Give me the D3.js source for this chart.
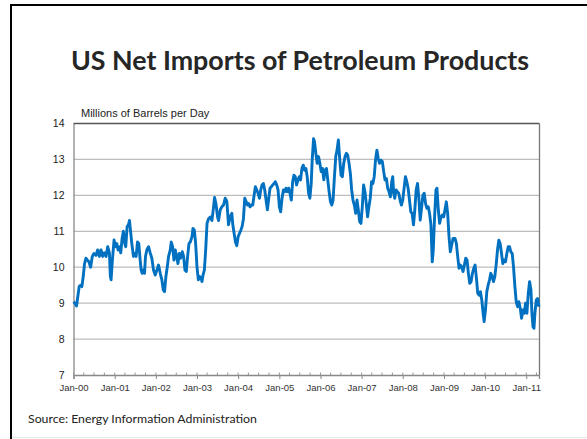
<!DOCTYPE html>
<html>
<head>
<meta charset="utf-8">
<script src="https://cdn.jsdelivr.net/npm/d3@7"></script>
<style>
  body { margin: 0; background: #fff; }
  svg { display: block; }
</style>
</head>
<body>
<div id="chart"></div>
<script>
// weekly-ish readings, time as decimal years
const yearFrac = [
  2000.000, 2000.033, 2000.073, 2000.098, 2000.138, 2000.171, 2000.203, 2000.236, 2000.268, 2000.301,
  2000.333, 2000.374, 2000.415, 2000.455, 2000.496, 2000.545, 2000.585, 2000.626, 2000.667, 2000.707,
  2000.748, 2000.789, 2000.829, 2000.870, 2000.894, 2000.911, 2000.943, 2000.984,
  2001.016, 2001.049, 2001.081, 2001.114, 2001.146, 2001.179, 2001.211, 2001.244, 2001.268, 2001.301,
  2001.333, 2001.358, 2001.390, 2001.415, 2001.455, 2001.488, 2001.520, 2001.553, 2001.585, 2001.618,
  2001.642, 2001.667, 2001.699, 2001.724, 2001.748, 2001.780, 2001.821, 2001.862, 2001.902, 2001.943, 2001.984,
  2002.024, 2002.065, 2002.106, 2002.146, 2002.179, 2002.211, 2002.244, 2002.276, 2002.309, 2002.350,
  2002.374, 2002.407, 2002.439, 2002.472, 2002.504, 2002.537, 2002.569, 2002.602, 2002.642, 2002.675,
  2002.707, 2002.740, 2002.772, 2002.805, 2002.837, 2002.878, 2002.902, 2002.935, 2002.967,
  2003.000, 2003.033, 2003.065, 2003.098, 2003.122, 2003.146, 2003.179, 2003.211, 2003.244, 2003.282,
  2003.323, 2003.363, 2003.403, 2003.427, 2003.460, 2003.500, 2003.524, 2003.565, 2003.605, 2003.645,
  2003.685, 2003.726, 2003.766, 2003.806, 2003.847, 2003.871, 2003.903, 2003.935, 2003.968,
  2004.000, 2004.032, 2004.065, 2004.097, 2004.129, 2004.161, 2004.194, 2004.226, 2004.258, 2004.290,
  2004.323, 2004.355, 2004.387, 2004.419, 2004.452, 2004.484, 2004.516, 2004.548, 2004.581, 2004.613,
  2004.645, 2004.677, 2004.710, 2004.742, 2004.774, 2004.806, 2004.839, 2004.871, 2004.903, 2004.935, 2004.968,
  2005.000, 2005.032, 2005.065, 2005.097, 2005.129, 2005.161, 2005.194, 2005.226, 2005.258, 2005.290,
  2005.323, 2005.355, 2005.387, 2005.419, 2005.452, 2005.484, 2005.516, 2005.548, 2005.581, 2005.613,
  2005.645, 2005.677, 2005.710, 2005.742, 2005.774, 2005.798, 2005.831, 2005.855, 2005.887, 2005.919,
  2005.952, 2005.984,
  2006.016, 2006.048, 2006.081, 2006.113, 2006.145, 2006.177, 2006.210, 2006.242, 2006.274, 2006.306,
  2006.339, 2006.371, 2006.403, 2006.435, 2006.468, 2006.500, 2006.532, 2006.565, 2006.597, 2006.629,
  2006.661, 2006.694, 2006.726, 2006.758, 2006.790, 2006.823, 2006.855, 2006.887, 2006.919, 2006.952, 2006.984,
  2007.016, 2007.048, 2007.081, 2007.113, 2007.145, 2007.177, 2007.210, 2007.242, 2007.274, 2007.306,
  2007.339, 2007.371, 2007.403, 2007.435, 2007.472, 2007.504, 2007.537, 2007.569, 2007.602, 2007.634,
  2007.667, 2007.699, 2007.732, 2007.756, 2007.780, 2007.805, 2007.837, 2007.870, 2007.902, 2007.935, 2007.967,
  2008.000, 2008.033, 2008.065, 2008.098, 2008.130, 2008.163, 2008.195, 2008.228, 2008.260, 2008.293,
  2008.325, 2008.358, 2008.390, 2008.423, 2008.455, 2008.488, 2008.520, 2008.553, 2008.585, 2008.618,
  2008.650, 2008.683, 2008.715, 2008.740, 2008.772, 2008.805, 2008.829, 2008.862, 2008.894, 2008.927,
  2008.959, 2008.992,
  2009.024, 2009.057, 2009.089, 2009.122, 2009.154, 2009.187, 2009.220, 2009.268, 2009.301, 2009.333,
  2009.366, 2009.398, 2009.431, 2009.463, 2009.496, 2009.528, 2009.561, 2009.593, 2009.626, 2009.659,
  2009.691, 2009.724, 2009.756, 2009.789, 2009.821, 2009.854, 2009.886, 2009.919, 2009.951, 2009.976,
  2010.008, 2010.041, 2010.073, 2010.106, 2010.138, 2010.171, 2010.203, 2010.236, 2010.268, 2010.301,
  2010.333, 2010.366, 2010.398, 2010.431, 2010.463, 2010.496, 2010.528, 2010.561, 2010.593, 2010.626,
  2010.659, 2010.691, 2010.724, 2010.756, 2010.789, 2010.821, 2010.854, 2010.886, 2010.919, 2010.951, 2010.984,
  2011.016, 2011.049, 2011.081, 2011.114, 2011.138, 2011.163, 2011.187, 2011.211, 2011.244, 2011.276, 2011.309
];

// millions of barrels per day
const netImports = [
  9.04, 9.00, 8.92, 9.13, 9.46, 9.50, 9.46, 9.74, 10.10, 10.25,
  10.20, 10.15, 10.00, 10.30, 10.38, 10.33, 10.48, 10.30, 10.48, 10.30,
  10.40, 10.30, 10.57, 10.40, 9.74, 9.65, 10.20, 10.76,
  10.57, 10.66, 10.48, 10.57, 10.40, 10.80, 11.00, 10.66, 10.57, 11.13,
  11.18, 11.30, 10.94, 10.66, 10.30, 10.38, 10.30, 10.70, 10.66, 10.20,
  9.92, 9.83, 9.92, 9.83, 10.30, 10.48, 10.57, 10.40, 10.25, 9.92, 9.78,
  9.92, 10.06, 9.83, 9.65, 9.37, 9.32, 9.74, 10.00, 10.30, 10.48,
  10.70, 10.57, 10.20, 10.48, 10.30, 10.10, 10.38, 10.25, 10.43, 10.30,
  9.92, 9.88, 10.30, 10.66, 10.70, 10.85, 11.08, 11.03, 10.66,
  10.00, 9.65, 9.74, 9.70, 9.60, 9.78, 9.92, 10.48, 11.22, 11.35,
  11.40, 11.30, 11.68, 11.94, 11.77, 11.40, 11.30, 11.60, 11.68, 11.73,
  11.92, 11.83, 11.18, 11.40, 11.50, 11.18, 10.94, 10.70, 10.60,
  10.85, 10.94, 11.03, 11.13, 11.35, 11.92, 11.83, 11.73, 11.77, 11.68,
  11.73, 11.73, 12.00, 12.24, 12.15, 12.06, 11.92, 12.15, 12.29, 12.33,
  12.15, 11.87, 11.60, 11.92, 12.20, 12.24, 12.29, 12.33, 12.38, 12.29, 12.15,
  11.68, 11.54, 11.92, 12.15, 12.10, 12.20, 12.10, 12.20, 12.06, 11.87,
  12.38, 12.56, 12.52, 12.29, 12.43, 12.52, 12.43, 12.75, 12.84, 12.70,
  12.75, 12.52, 12.06, 11.92, 12.33, 12.98, 13.58, 13.49, 13.17, 12.89,
  13.08, 12.89,
  12.66, 12.75, 12.43, 12.70, 12.75, 12.43, 12.10, 11.83, 11.73, 11.87,
  12.52, 13.08, 13.26, 13.54, 13.00, 12.56, 12.52, 12.89, 13.08, 13.17,
  13.12, 12.89, 12.61, 12.15, 11.87, 11.73, 11.50, 11.87, 11.60, 11.27, 11.22,
  11.68, 12.29, 12.10, 11.77, 11.40, 11.68, 11.92, 12.38, 12.33, 12.52,
  13.00, 13.26, 13.03, 12.89, 12.98, 12.94, 12.66, 12.43, 12.47, 12.20,
  12.10, 11.96, 12.38, 12.52, 12.06, 11.92, 12.15, 12.10, 12.06, 11.87, 11.73,
  11.87, 12.20, 12.52, 12.38, 12.20, 11.87, 11.54, 11.50, 11.18, 11.60,
  12.15, 12.33, 11.92, 11.31, 11.64, 12.00, 12.06, 11.77, 11.64, 11.68,
  11.50, 11.18, 10.15, 10.48, 11.40, 12.15, 12.20, 11.60, 11.22, 11.40,
  11.45, 11.40,
  11.60, 11.82, 11.50, 10.85, 10.43, 10.62, 10.80, 10.80, 10.66, 10.30,
  9.97, 10.06, 10.01, 9.88, 10.06, 10.25, 10.20, 9.83, 9.55, 9.60,
  9.83, 9.97, 10.06, 9.69, 9.27, 9.22, 9.32, 9.09, 8.72, 8.49,
  8.81, 9.32, 9.50, 9.64, 9.83, 9.74, 9.60, 9.74, 10.06, 10.48,
  10.75, 10.66, 10.38, 10.10, 10.20, 10.15, 10.38, 10.57, 10.57, 10.43,
  10.38, 10.00, 9.46, 9.04, 8.90, 9.04, 8.86, 8.58, 8.81, 8.72, 9.00,
  8.72, 9.27, 9.60, 9.37, 8.72, 8.35, 8.30, 8.72, 9.09, 9.13, 8.90
];

const yTicks = [7, 8, 9, 10, 11, 12, 13, 14];
const xTickYears = [2000, 2001, 2002, 2003, 2004, 2005, 2006, 2007, 2008, 2009, 2010, 2011];

const width = 587, height = 439;

function toDate(t) {
  const y = Math.floor(t);
  const a = new Date(y, 0, 1), b = new Date(y + 1, 0, 1);
  return new Date(+a + (t - y) * (b - a));
}

const data = yearFrac.map((t, i) => ({ date: toDate(t), value: netImports[i] }));

const svg = d3.select('#chart')
  .append('svg')
  .attr('width', width)
  .attr('height', height);

svg.append('rect')
  .attr('width', width)
  .attr('height', height)
  .style('fill', '#fff');

// slide frame (top and left edges visible)
svg.append('rect').attr('x', 10).attr('y', 4).attr('width', width - 10).attr('height', 2).style('fill', '#000');
svg.append('rect').attr('x', 10).attr('y', 4).attr('width', 2).attr('height', height - 4).style('fill', '#000');
svg.append('line')
  .attr('x1', 12).attr('x2', width).attr('y1', 437.5).attr('y2', 437.5)
  .style('stroke', '#e6e6e6');

svg.append('text')
  .text('US Net Imports of Petroleum Products')
  .attr('x', 300)
  .attr('y', 70)
  .attr('text-anchor', 'middle')
  .attr('font-family', 'Lato, "Open Sans", sans-serif')
  .attr('font-weight', 'bold')
  .attr('font-size', '26.8px')
  .style('fill', '#262626');

const x = d3.scaleTime()
  .domain([toDate(2000), toDate(2011.31)])
  .range([73.5, 539]);

const y = d3.scaleLinear()
  .domain([7, 14])
  .range([375, 123.5]);

// gridlines
svg.append('g')
  .selectAll('line')
  .data(yTicks.slice(1, -1))
  .join('line')
  .attr('x1', 73.5).attr('x2', 539)
  .attr('y1', d => y(d)).attr('y2', d => y(d))
  .style('stroke', '#bdbdbd')
  .style('stroke-width', 1.3);

// frame: top and right
svg.append('line')
  .attr('x1', 73.5).attr('x2', 539.5).attr('y1', y(14)).attr('y2', y(14))
  .style('stroke', '#555').style('stroke-width', 1.3);
svg.append('line')
  .attr('x1', 539.5).attr('x2', 539.5).attr('y1', y(14)).attr('y2', y(7))
  .style('stroke', '#777').style('stroke-width', 1.3);

// y axis
const yAxis = svg.append('g')
  .attr('transform', 'translate(73.5,0)')
  .call(d3.axisLeft(y).tickValues(yTicks).tickSize(0).tickPadding(9).tickFormat(d3.format('d')));
yAxis.select('.domain').style('stroke', '#888').style('stroke-width', 1.3);
yAxis.selectAll('text')
  .attr('font-family', '"Liberation Sans", Arial, sans-serif')
  .attr('font-size', '10.5px')
  .style('fill', '#222');

// x axis: quarterly minor ticks, yearly major
const quarters = d3.timeMonth.every(3).range(toDate(2000), toDate(2011.31));
svg.append('g')
  .selectAll('line')
  .data(quarters)
  .join('line')
  .attr('x1', d => x(d)).attr('x2', d => x(d))
  .attr('y1', y(7) - 2.5).attr('y2', y(7))
  .style('stroke', '#999');

const xAxis = svg.append('g')
  .attr('transform', `translate(0,${y(7)})`)
  .call(d3.axisBottom(x)
    .tickValues(xTickYears.map(yr => new Date(yr, 0, 1)))
    .tickSize(4)
    .tickPadding(5)
    .tickFormat(d3.timeFormat('Jan-%y')));
xAxis.select('.domain').style('stroke', '#888').style('stroke-width', 1.3);
xAxis.selectAll('.tick line').style('stroke', '#888');
xAxis.selectAll('text')
  .attr('font-family', '"Liberation Sans", Arial, sans-serif')
  .attr('font-size', '9.5px')
  .style('fill', '#333');

svg.append('text')
  .text('Millions of Barrels per Day')
  .attr('x', 81)
  .attr('y', 117)
  .attr('font-family', '"Liberation Sans", Arial, sans-serif')
  .attr('font-size', '11px')
  .style('fill', '#222');

const line = d3.line()
  .x(d => x(d.date))
  .y(d => y(d.value));

svg.append('path')
  .datum(data)
  .attr('d', line)
  .style('fill', 'none')
  .style('stroke', '#0070c0')
  .style('stroke-width', 2.9)
  .style('stroke-linejoin', 'round');

svg.append('text')
  .text('Source: Energy Information Administration')
  .attr('x', 28)
  .attr('y', 423)
  .attr('font-family', 'Lato, "Open Sans", sans-serif')
  .attr('font-size', '12.3px')
  .style('fill', '#222');
</script>
</body>
</html>
